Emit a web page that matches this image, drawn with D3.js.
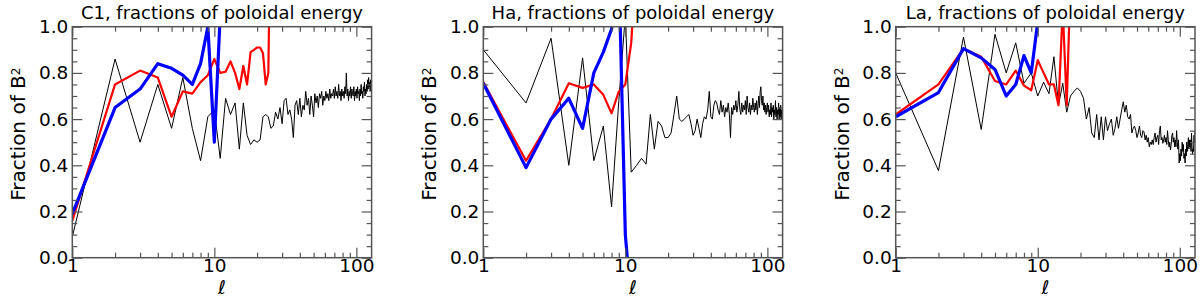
<!DOCTYPE html>
<html><head><meta charset="utf-8">
<script src="https://cdn.jsdelivr.net/npm/d3@7"></script>
<style>
body{margin:0;background:#fff}
svg{display:block}
text{font-family:"DejaVu Sans",sans-serif;fill:#000}
</style>
</head><body>
<svg id="c" width="1200" height="297"></svg>
<script>
// ---------------- data ----------------
const titles = ["C1, fractions of poloidal energy", "Ha, fractions of poloidal energy", "La, fractions of poloidal energy"];
const xMajorTicks = [1, 10, 100];
const xMinorTicks = [2,3,4,5,6,7,8,9,20,30,40,50,60,70,80,90];
const yMajorTicks = [0, 0.2, 0.4, 0.6, 0.8, 1.0];
const yMinorTicks = [0.05,0.1,0.15,0.25,0.3,0.35,0.45,0.5,0.55,0.65,0.7,0.75,0.85,0.9,0.95];
const ellMax = 128;

// values indexed by l = 1, 2, 3, ...
const c1Black = [
 0.09,0.86,0.50,0.75,0.56,0.78,0.56,0.42,0.61,0.64,
 0.43,0.69,0.62,0.67,0.47,0.67,0.53,0.49,0.51,0.50,
 0.51,0.61,0.62,0.61,0.56,0.57,0.63,0.60,0.65,0.58,
 0.68,0.69,0.62,0.64,0.60,0.52,0.66,0.68,0.62,0.69,
 0.61,0.66,0.64,0.72,0.66,0.69,0.62,0.70,0.66,0.61,
 0.71,0.67,0.70,0.65,0.71,0.69,0.72,0.66,0.70,0.68,
 0.72,0.69,0.71,0.68,0.73,0.69,0.71,0.70,0.73,0.69,
 0.74,0.70,0.72,0.69,0.75,0.70,0.72,0.68,0.73,0.70,
 0.72,0.69,0.74,0.71,0.80,0.70,0.73,0.68,0.72,0.70,
 0.74,0.69,0.73,0.71,0.70,0.74,0.68,0.72,0.70,0.73,
 0.69,0.74,0.71,0.72,0.68,0.73,0.70,0.75,0.71,0.72,
 0.69,0.74,0.72,0.76,0.70,0.73,0.71,0.75,0.72,0.77,
 0.73,0.78,0.74,0.76,0.72,0.77,0.75,0.77];
const c1Red = [0.16,0.75,0.81,0.78,0.61,0.72,0.71,0.76,0.79,0.86,0.80,0.805,0.85,0.80,0.73,0.83,0.75,0.89,0.90,0.91,0.91,0.885,0.75,0.80,1.6];
const c1Blue = [0.19,0.65,0.73,0.84,0.82,0.79,0.75,0.84,1.0,0.50,1.05,1.8];

const haBlack = [
 0.90,0.67,0.95,0.40,0.865,0.42,0.57,0.22,0.68,1.05,
 0.37,0.40,0.43,0.405,0.62,0.47,0.59,0.57,0.52,0.52,
 0.54,0.62,0.70,0.60,0.59,0.60,0.61,0.62,0.58,0.53,
 0.55,0.60,0.56,0.52,0.58,0.61,0.60,0.64,0.72,0.61,
 0.60,0.66,0.68,0.67,0.64,0.62,0.68,0.63,0.66,0.61,
 0.65,0.63,0.67,0.62,0.52,0.65,0.62,0.66,0.64,0.68,
 0.63,0.66,0.72,0.64,0.62,0.67,0.63,0.66,0.64,0.68,
 0.62,0.70,0.65,0.63,0.67,0.62,0.66,0.64,0.69,0.65,
 0.63,0.67,0.64,0.68,0.62,0.66,0.70,0.65,0.72,0.74,
 0.68,0.66,0.70,0.64,0.67,0.63,0.66,0.62,0.65,0.67,
 0.63,0.66,0.61,0.64,0.62,0.67,0.61,0.65,0.63,0.66,
 0.60,0.64,0.62,0.68,0.61,0.65,0.60,0.64,0.62,0.67,
 0.60,0.65,0.61,0.66,0.60,0.64,0.62,0.66];
const haRed = [0.76,0.42,0.60,0.755,0.735,0.75,0.705,0.625,0.72,0.75,0.93,1.3];
const haBlue = [0.755,0.39,0.60,0.69,0.56,0.80,0.89,0.99,1.25,0.10,-0.2];

const laBlack = [
 0.80,0.377,0.955,0.555,0.967,0.80,0.93,0.755,0.80,0.70,
 0.76,0.71,0.87,0.66,0.755,0.63,0.70,0.72,0.735,0.72,
 0.69,0.60,0.65,0.54,0.52,0.62,0.51,0.61,0.51,0.61,
 0.55,0.58,0.60,0.53,0.56,0.61,0.56,0.60,0.64,0.675,
 0.63,0.66,0.61,0.60,0.62,0.54,0.56,0.57,0.55,0.52,
 0.54,0.57,0.53,0.52,0.55,0.545,0.51,0.53,0.50,0.52,
 0.48,0.50,0.49,0.51,0.49,0.52,0.54,0.50,0.52,0.53,
 0.49,0.55,0.57,0.51,0.52,0.495,0.51,0.53,0.50,0.52,
 0.49,0.55,0.51,0.48,0.50,0.466,0.49,0.53,0.54,0.50,
 0.52,0.48,0.51,0.48,0.55,0.50,0.47,0.51,0.41,0.45,
 0.42,0.47,0.44,0.50,0.46,0.49,0.43,0.45,0.41,0.47,
 0.44,0.50,0.46,0.49,0.52,0.47,0.51,0.48,0.51,0.46,
 0.54,0.48,0.45,0.47,0.46,0.53,0.50,0.55];
const laRed = [0.62,0.75,0.905,0.87,0.765,0.75,0.81,0.745,0.725,0.855,0.80,0.75,0.75,0.66,1.08,0.66,1.2,2.0];
const laBlue = [0.61,0.715,0.905,0.865,0.815,0.70,0.75,0.875,0.80,1.02,1.6];

// ---------------- layout ----------------
const panelDefs = [
  {title: titles[0], black: c1Black, red: c1Red, blue: c1Blue, left: 72.3},
  {title: titles[1], black: haBlack, red: haRed, blue: haBlue, left: 483.3},
  {title: titles[2], black: laBlack, red: laRed, blue: laBlue, left: 895.7}
];
const PW = 299.3, PT = 26.7, PH = 231;
const axisColor = "#555";

const svg = d3.select("#c");

panelDefs.forEach((p, pi) => {
  const g = svg.append("g").attr("transform", `translate(${p.left},${PT})`);
  const x = d3.scaleLog().domain([1, ellMax]).range([0, PW]);
  const y = d3.scaleLinear().domain([0, 1]).range([PH, 0]);

  const clipId = "clip" + pi;
  g.append("clipPath").attr("id", clipId).append("rect")
    .attr("x", 0).attr("y", 0).attr("width", PW).attr("height", PH);

  const line = d3.line().x((d, i) => x(i + 1)).y(d => y(d));
  const plot = g.append("g").attr("clip-path", `url(#${clipId})`);
  plot.append("path").datum(p.black).attr("d", line)
    .attr("fill", "none").attr("stroke", "#000").attr("stroke-width", 1).attr("stroke-linejoin", "round");
  plot.append("path").datum(p.red).attr("d", line)
    .attr("fill", "none").attr("stroke", "#ff0000").attr("stroke-width", 2.2).attr("stroke-linejoin", "round");
  plot.append("path").datum(p.blue).attr("d", line)
    .attr("fill", "none").attr("stroke", "#0000ff").attr("stroke-width", 3.2).attr("stroke-linejoin", "round");

  const styleAxis = sel => {
    sel.select(".domain").remove();
    sel.selectAll(".tick line").attr("stroke", axisColor).attr("stroke-width", 1.2);
    sel.selectAll("text").style("font-family", '"DejaVu Sans",sans-serif').style("font-size", "18.5px").attr("fill", "#000");
  };

  // bottom axis (major with labels, minor)
  g.append("g").attr("transform", `translate(0,${PH})`)
    .call(d3.axisBottom(x).tickValues(xMajorTicks).tickSize(-10).tickPadding(1.5).tickFormat(d3.format("d")))
    .call(styleAxis);
  g.append("g").attr("transform", `translate(0,${PH})`)
    .call(d3.axisBottom(x).tickValues(xMinorTicks).tickSize(-5).tickFormat(""))
    .call(styleAxis);
  // top axis
  g.append("g")
    .call(d3.axisTop(x).tickValues(xMajorTicks).tickSize(-10).tickFormat(""))
    .call(styleAxis);
  g.append("g")
    .call(d3.axisTop(x).tickValues(xMinorTicks).tickSize(-5).tickFormat(""))
    .call(styleAxis);
  // left axis
  g.append("g")
    .call(d3.axisLeft(y).tickValues(yMajorTicks).tickSize(-10).tickPadding(4).tickFormat(d3.format(".1f")))
    .call(styleAxis);
  g.append("g")
    .call(d3.axisLeft(y).tickValues(yMinorTicks).tickSize(-5).tickFormat(""))
    .call(styleAxis);
  // right axis
  g.append("g").attr("transform", `translate(${PW},0)`)
    .call(d3.axisRight(y).tickValues(yMajorTicks).tickSize(-10).tickFormat(""))
    .call(styleAxis);
  g.append("g").attr("transform", `translate(${PW},0)`)
    .call(d3.axisRight(y).tickValues(yMinorTicks).tickSize(-5).tickFormat(""))
    .call(styleAxis);

  // frame
  g.append("rect").attr("x", 0).attr("y", 0).attr("width", PW).attr("height", PH)
    .attr("fill", "none").attr("stroke", axisColor).attr("stroke-width", 1.5);

  // title
  g.append("text").attr("x", PW / 2).attr("y", -7.5).attr("text-anchor", "middle")
    .style("font-size", "18px").text(p.title);

  // x label
  g.append("text").attr("x", PW / 2).attr("y", PH + 36).attr("text-anchor", "middle")
    .style("font-size", "19px").style("font-style", "italic").text("\u2113");

  // y label
  const yl = g.append("text")
    .attr("transform", `translate(-47,${PH / 2 - 8}) rotate(-90)`)
    .attr("text-anchor", "middle").style("font-size", "20px");
  yl.append("tspan").text("Fraction of B");
  yl.append("tspan").attr("dy", "-0.45em").style("font-size", "12px").text("2");
});
</script>
</body></html>
